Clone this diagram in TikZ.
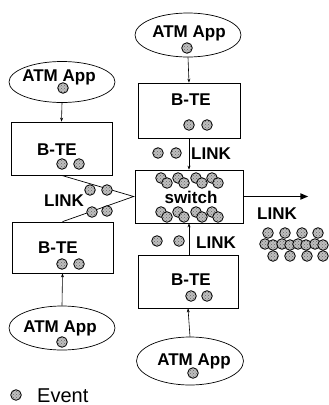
\documentclass[tikz,border=0pt]{standalone}
\usepackage{fontspec}
\setmainfont{Liberation Sans}
\usetikzlibrary{shapes.geometric,arrows.meta,patterns}
\begin{document}
\begin{tikzpicture}[x=1pt,y=-1pt,
  app/.style={draw,ellipse,line width=0.7pt,minimum width=106pt,minimum height=44pt,inner sep=0pt},
  bte/.style={draw,line width=0.7pt,minimum width=101pt,minimum height=53pt,inner sep=0pt},
  lbl/.style={font=\fontsize{17}{19}\selectfont\bfseries,inner sep=0pt,anchor=base},
  evt/.style={draw=black,preaction={fill=gray!50},pattern=crosshatch dots,pattern color=black!60,line width=0.8pt},
  conn/.style={-{Stealth[length=4pt,width=3pt]},line width=0.6pt}]
  \useasboundingbox (0,0) rectangle (329,405);
  % applications
  \node[app,minimum height=41pt] (appLT) at (62,82) {};
  \node[app] (appLB) at (62,328) {};
  \node[app] (appRT) at (188,35) {};
  \node[app,minimum width=107pt,minimum height=48pt] (appRB) at (190,361) {};
  % terminals and switch
  \node[bte] (bteLT) at (61.5,148.5) {};
  \node[bte,minimum height=51pt] (bteLB) at (62.5,247.5) {};
  \node[bte,minimum width=102pt,minimum height=55pt] (bteRT) at (189,110.5) {};
  \node[bte,minimum width=100pt] (bteRB) at (188,281.5) {};
  \node[bte,minimum width=108pt] (sw) at (189,196.5) {};
  % labels
  \node[lbl] (tLT) at (59,81) {ATM App};
  \node[lbl] (tLB) at (60,332) {ATM App};
  \node[lbl] (tRT) at (189,37) {ATM App};
  \node[lbl] (tRB) at (194,365) {ATM App};
  \node[lbl] (bLT) at (57,155) {B-TE};
  \node[lbl] (bLB) at (58,253) {B-TE};
  \node[lbl] (bRT) at (191,105) {B-TE};
  \node[lbl] (bRB) at (191,285) {B-TE};
  \node[lbl] (swlbl) at (191,203) {switch};
  \node[lbl] (lnkL) at (64,206) {LINK};
  \node[lbl] (lnkT) at (211,159) {LINK};
  \node[lbl] (lnkB) at (216,248) {LINK};
  \node[lbl] (lnkR) at (277,219) {LINK};
  % connectors
  \draw[conn] (appLT.south) -- (bteLT.north);
  \draw[conn] (appLB.north) -- (bteLB.south);
  \draw[conn] (appRT.south) -- (bteRT.north);
  \draw[conn] (bteRT.south) -- (sw.north);
  \draw[conn] (bteRB.north -| sw.south) -- (sw.south);
  \draw[conn] (appRB.north) -- (bteRB.south);
  \coordinate (swin) at ([xshift=-1pt]sw.west);
  \draw[line width=0.7pt] (bteLT.south) -- (swin) -- (bteLB.north);
  \coordinate (linkend) at ([xshift=65pt]sw.east);
  \draw[line width=1.8pt,-{Triangle[length=8pt,width=6pt]}] (sw.east) -- (linkend);
  % events
  \foreach \p in {(63,88),(62,342),(187,48),(193,373),
                  (62,164),(79,164),(62,264),(79,264),
                  (189,125),(207,125),(191,296),(207,296),
                  (90,190),(107,190),(92,212),(107,211),
                  (158,153),(176,153),(157,241),(179,241)}
    \draw[evt] \p circle (5.3pt);
  \foreach \x in {161,178,196,212} {
    \draw[evt] (\x,178) circle (5.3pt);
    \draw[evt] (\x+6,183) circle (5.3pt);
    \draw[evt] (\x,212) circle (5.3pt);
    \draw[evt] (\x+6,217) circle (5.3pt);
  }
  \foreach \x in {268,285,302,318}
    \draw[evt] (\x,233) circle (5.3pt);
  \foreach \x in {265,282,298,315} {
    \draw[evt] (\x,244) circle (5.3pt);
    \draw[evt] (\x+8,245) circle (5.3pt);
  }
  \foreach \x in {273,290,307,323}
    \draw[evt] (\x,256) circle (5.3pt);
  % legend
  \draw[evt] (16,395) circle (5.3pt);
  \node[anchor=base west,font=\fontsize{20}{22}\selectfont,inner sep=0pt] (evlbl) at (37,402) {Event};
\end{tikzpicture}
\end{document}
